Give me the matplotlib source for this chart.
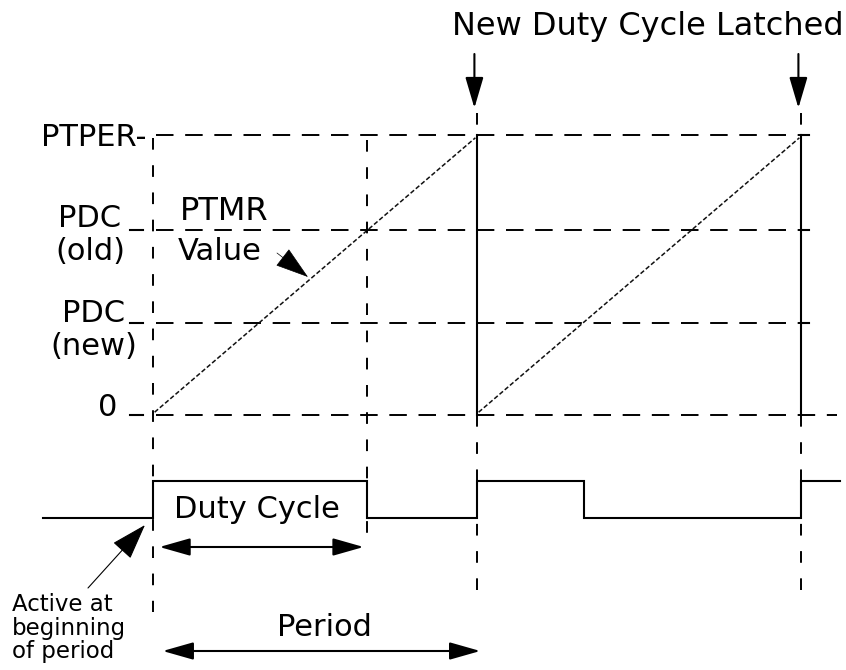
import matplotlib
matplotlib.use("Agg")
import matplotlib.pyplot as plt

# ---------------- data ----------------
ptper = 100            # period register value
pdc_old = 66           # old duty-cycle register value
pdc_new = 33           # new duty-cycle register value
period = 1.0           # one PWM period (time units)
latch_times = [1.0, 2.0]
ramp_starts = [0.0, 1.0]
duty_values = [pdc_old, pdc_new]          # PDC in force during each period
level_labels = ["PTPER-", "PDC\n(old)", "PDC\n(new)", "0"]
level_values = [ptper, pdc_old, pdc_new, 0]
trace_start, trace_end = -0.34, 2.12       # extent of the drawn PWM trace

# ---------------- layout ----------------
W, H = 846, 670
X0, PX_PER_T = 153, 324
Y0, PX_PER_V = 415, 2.8


def P(px, py):
    """image pixel -> data coordinates (layout helper for text/annotations)"""
    return ((px - X0) / PX_PER_T, (Y0 - py) / PX_PER_V)


def TX(px):
    return P(px, 0)[0]


def VY(py):
    return P(0, py)[1]


fig = plt.figure(figsize=(W / 100, H / 100), dpi=100)
ax = fig.add_axes([0, 0, 1, 1])
ax.set_xlim(TX(0), TX(W))
ax.set_ylim(VY(H), VY(0))
ax.axis("off")

K = "black"
LW = 1.5
HDASH = dict(color=K, lw=1.4, dashes=(9, 6))
VDASH = dict(color=K, lw=1.4, dashes=(6, 8))

# horizontal reference levels
for v in level_values:
    end = 2.11 if v == 0 else 2.0
    ax.plot([0.01, end], [v, v], **HDASH)
    if v != 0:
        ax.plot([latch_times[-1], latch_times[-1] + 0.025], [v, v], color=K, lw=LW)
    if v != ptper:
        ax.plot([-0.07, -0.03], [v, v], color=K, lw=LW)

# timer ramps
for s in ramp_starts:
    ax.plot([s + 0.005, s + period - 0.005], [1, ptper - 1], color="#111111",
            lw=1.1, dashes=(3, 1.5))

# solid reset lines at latch instants
for t in latch_times:
    ax.plot([t, t], [0, ptper], color=K, lw=LW)

# vertical dashed guide lines
ax.plot([0, 0], [VY(138), VY(612)], **VDASH)
t_duty_old = duty_values[0] / ptper * period
ax.plot([t_duty_old, t_duty_old], [VY(140), VY(545)], **VDASH)
for t, bottom in zip(latch_times, [600, 590]):
    ax.plot([t, t], [VY(113), ptper], **VDASH)
    ax.plot([t, t], [0, VY(bottom)], **VDASH)

# PWM output waveform
LOW, HIGH = VY(518), VY(481)
ts, ys = [trace_start], [LOW]
for k, pdc in enumerate(duty_values):
    t = k * period
    tf = t + pdc / ptper * period
    ts += [t, t, tf, tf]
    ys += [LOW, HIGH, HIGH, LOW]
t = latch_times[-1]
ts += [t, t, trace_end]
ys += [LOW, HIGH, HIGH]
ax.plot(ts, ys, color=K, lw=LW, solid_joinstyle="miter")

# level labels
FS = 22
ax.text(*P(146, 137), level_labels[0], fontsize=FS, ha="right", va="center")
ax.text(*P(90, 235), level_labels[1], fontsize=FS, ha="center", va="center",
        linespacing=1.2)
ax.text(*P(94, 330), level_labels[2], fontsize=FS, ha="center", va="center",
        linespacing=1.2)
ax.text(*P(108, 407), level_labels[3], fontsize=FS, ha="center", va="center")

# annotations
ax.text(*P(844, 27), "New Duty Cycle Latched", fontsize=23, ha="right", va="center")
for t in latch_times:
    ax.annotate("", xy=(t - 0.008, VY(108)), xytext=(t - 0.008, VY(54)),
                arrowprops=dict(arrowstyle="-|>,head_length=0.95,head_width=0.28",
                                mutation_scale=20, lw=1.5, color=K,
                                shrinkA=0, shrinkB=0))

ax.text(*P(224, 211), "PTMR", fontsize=23, ha="center", va="center")
ax.text(*P(220, 252), "Value", fontsize=22, ha="center", va="center")
ax.annotate("", xy=P(308, 277), xytext=P(277, 253),
            arrowprops=dict(arrowstyle="-|>,head_length=1.1,head_width=0.35",
                            mutation_scale=20, lw=0.5, color=K,
                            shrinkA=0, shrinkB=0))

ax.text(*P(257, 510), "Duty Cycle", fontsize=22, ha="center", va="center")
ax.annotate("", xy=(t_duty_old - 0.01, VY(547)), xytext=(0.02, VY(547)),
            arrowprops=dict(arrowstyle="<|-|>,head_length=0.95,head_width=0.27",
                            mutation_scale=20, lw=1.5, color=K,
                            shrinkA=0, shrinkB=0))

ax.text(*P(324, 627), "Period", fontsize=22, ha="center", va="center")
ax.annotate("", xy=(period + 0.01, VY(651)), xytext=(0.03, VY(651)),
            arrowprops=dict(arrowstyle="<|-|>,head_length=0.95,head_width=0.27",
                            mutation_scale=20, lw=1.5, color=K,
                            shrinkA=0, shrinkB=0))

ax.text(*P(12, 628), "Active at\nbeginning\nof period", fontsize=16.5,
        ha="left", va="center", linespacing=1.02)
ax.annotate("", xy=P(145, 525), xytext=P(88, 588),
            arrowprops=dict(arrowstyle="-|>,head_length=1.15,head_width=0.38",
                            mutation_scale=20, lw=0.8, color=K,
                            shrinkA=0, shrinkB=0))

fig.savefig("out.png", dpi=100, facecolor="white")
